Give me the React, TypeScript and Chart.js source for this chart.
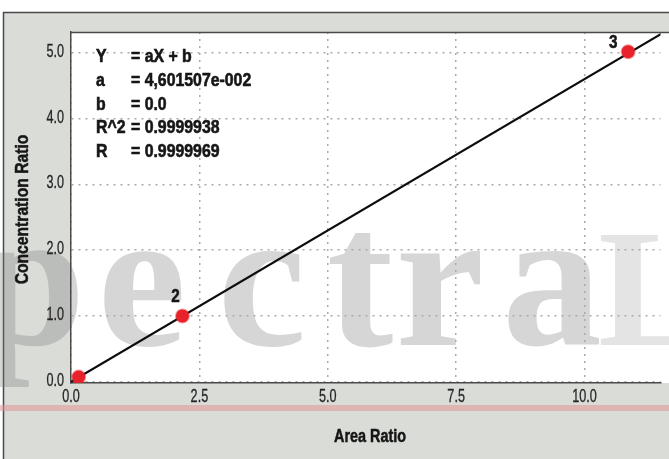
import React, { useEffect, useRef } from 'react';
import { Chart, registerables } from 'chart.js';

Chart.register(...registerables);

// ---- data ----
const calX = [0.15, 2.17, 10.85];
const calY = [0.07, 1.0, 5.02];
const calLabels = ['', '2', '3'];
const fitX = [0.0, 11.6];
const fitY = [0.0, 5.34];
const xTicks = [0, 2.5, 5, 7.5, 10];
const yTicks = [0, 1, 2, 3, 4, 5];
const xTitle = 'Area Ratio';
const yTitle = 'Concentration Ratio';
const eqNames = ['Y', 'a', 'b', 'R^2', 'R'];
const eqValues = ['= aX + b', '= 4,601507e-002', '= 0.0', '= 0.9999938', '= 0.9999969'];
const watermarkLetters = ['p', 'e', 'c', 't', 'r', 'a'];
const watermarkCenters = [30, 142, 262, 360, 440, 552];
const watermarkLast = 'L';

const SANS = "'Liberation Sans', Arial, sans-serif";
const W = 669;
const H = 459;

function condensed(ctx: any, text: string, x: number, y: number, font: string, sx: number, align: string, rot = 0, heavy = 0) {
  ctx.save();
  ctx.translate(x, y);
  if (rot) ctx.rotate(rot);
  ctx.scale(sx, 1);
  ctx.font = font;
  ctx.textAlign = align;
  ctx.textBaseline = 'middle';
  ctx.fillText(text, 0, 0);
  if (heavy) {
    ctx.lineWidth = heavy;
    ctx.strokeStyle = ctx.fillStyle;
    ctx.strokeText(text, 0, 0);
  }
  ctx.restore();
}

const bgPlugin = {
  id: 'bgPlugin',
  beforeDraw(chart: any) {
    const { ctx, chartArea } = chart;
    ctx.save();
    ctx.fillStyle = '#ffffff';
    ctx.fillRect(0, 0, W, H);
    ctx.fillStyle = '#d9dcd7';
    ctx.fillRect(3, 12, W, H);
    ctx.strokeStyle = '#4a4a4a';
    ctx.lineWidth = 1.5;
    ctx.beginPath();
    ctx.moveTo(3.5, H);
    ctx.lineTo(3.5, 12.5);
    ctx.lineTo(W, 12.5);
    ctx.stroke();
    ctx.fillStyle = '#ffffff';
    ctx.fillRect(chartArea.left, chartArea.top, W - chartArea.left, chartArea.bottom - chartArea.top);
    // watermark
    ctx.fillStyle = 'rgba(120,120,120,0.3)';
    ctx.textAlign = 'center';
    ctx.textBaseline = 'alphabetic';
    ctx.font = "bold 200px 'Liberation Serif', serif";
    watermarkLetters.forEach((ch, i) => {
      ctx.fillText(ch, watermarkCenters[i], 345);
    });
    ctx.fillStyle = 'rgba(120,120,120,0.2)';
    ctx.font = "bold 168px 'Liberation Serif', serif";
    ctx.textAlign = 'left';
    ctx.fillText(watermarkLast, 598, 345);
    ctx.restore();
  },
  afterDatasetsDraw(chart: any) {
    const { ctx, chartArea, scales } = chart;
    ctx.save();
    // top border of plot
    ctx.strokeStyle = '#4a4a4a';
    ctx.lineWidth = 1.5;
    ctx.beginPath();
    ctx.moveTo(chartArea.left, chartArea.top + 0.5);
    ctx.lineTo(W, chartArea.top + 0.5);
    ctx.stroke();
    ctx.fillStyle = '#161616';
    // point labels
    const offs = [[0, -18], [-7, -19], [-15, -9]];
    calLabels.forEach((lab, i) => {
      if (!lab) return;
      const px = scales.x.getPixelForValue(calX[i]);
      const py = scales.y.getPixelForValue(calY[i]);
      condensed(ctx, lab, px + offs[i][0], py + offs[i][1], `bold 18px ${SANS}`, 0.85, 'center', 0, 0.5);
    });
    // equation block
    eqNames.forEach((n, i) => {
      const y = 57 + i * 23.8;
      condensed(ctx, n, 96, y, `bold 18px ${SANS}`, 0.88, 'left', 0, 0.6);
      condensed(ctx, eqValues[i], 131, y, `bold 18px ${SANS}`, 0.88, 'left', 0, 0.6);
    });
    ctx.restore();
  },
  afterDraw(chart: any) {
    const { ctx, scales, chartArea } = chart;
    ctx.save();
    ctx.fillStyle = '#262626';
    // tick labels from the scales
    scales.x.ticks.forEach((t: any) => {
      const px = scales.x.getPixelForValue(t.value);
      condensed(ctx, Number(t.value).toFixed(1), px, chartArea.bottom + 14, `18px ${SANS}`, 0.7, 'center', 0, 0.3);
    });
    scales.y.ticks.forEach((t: any) => {
      const py = scales.y.getPixelForValue(t.value);
      condensed(ctx, Number(t.value).toFixed(1), chartArea.left - 7, py - 1, `18px ${SANS}`, 0.7, 'right', 0, 0.3);
    });
    // axis titles
    ctx.fillStyle = '#161616';
    condensed(ctx, xTitle, (chartArea.left + W) / 2, 437, `bold 18px ${SANS}`, 0.8, 'center', 0, 0.5);
    condensed(ctx, yTitle, 23, (chartArea.top + chartArea.bottom) / 2 + 2, `bold 18px ${SANS}`, 0.87, 'center', -Math.PI / 2, 0.5);
    // pink band
    ctx.fillStyle = 'rgba(225,150,150,0.55)';
    ctx.fillRect(0, 405, W, 6);
    ctx.restore();
  },
};

export default function App() {
  const ref = useRef<HTMLCanvasElement | null>(null);
  useEffect(() => {
    document.body.style.margin = '0';
    const canvas = ref.current!;
    const chart = new Chart(canvas, {
      type: 'scatter',
      data: {
        datasets: [
          {
            type: 'line',
            data: fitX.map((x, i) => ({ x, y: fitY[i] })),
            borderColor: '#0d0d0d',
            borderWidth: 2.2,
            pointRadius: 0,
            fill: false,
            order: 2,
          } as any,
          {
            type: 'scatter',
            data: calX.map((x, i) => ({ x, y: calY[i] })),
            backgroundColor: '#e8222a',
            borderColor: 'rgba(232,34,42,0.45)',
            borderWidth: 2,
            pointRadius: 6.5,
            order: 1,
          },
        ],
      },
      options: {
        animation: false,
        responsive: false,
        maintainAspectRatio: false,
        layout: { padding: { top: 32, left: 0, right: 0, bottom: 0 } },
        plugins: { legend: { display: false }, tooltip: { enabled: false } },
        scales: {
          x: {
            type: 'linear',
            min: 0,
            max: 11.48,
            afterBuildTicks: (s: any) => {
              s.ticks = xTicks.map((v) => ({ value: v }));
            },
            afterFit: (s: any) => {
              s.height = 76;
              s.paddingLeft = 0;
              s.paddingRight = 0;
            },
            ticks: { display: false },
            grid: { color: '#aaaaaa', lineWidth: 1.5, drawTicks: false },
            border: { display: true, color: '#4a4a4a', width: 1.5, dash: [2, 5] },
            title: { display: false },
          },
          y: {
            type: 'linear',
            min: -0.02,
            max: 5.32,
            afterBuildTicks: (s: any) => {
              s.ticks = yTicks.map((v) => ({ value: v }));
            },
            afterFit: (s: any) => {
              s.width = 71;
              s.paddingTop = 0;
              s.paddingBottom = 0;
            },
            ticks: { display: false },
            grid: { color: '#aaaaaa', lineWidth: 1.5, drawTicks: false },
            border: { display: true, color: '#4a4a4a', width: 1.5, dash: [2, 5] },
            title: { display: false },
          },
        },
      },
      plugins: [bgPlugin],
    });
    return () => chart.destroy();
  }, []);
  return (
    <div style={{ width: W, height: H }}>
      <canvas ref={ref} width={W} height={H} style={{ display: 'block', width: W, height: H }} />
    </div>
  );
}
